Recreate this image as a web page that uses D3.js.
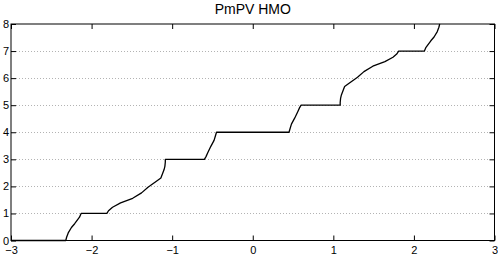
<!DOCTYPE html>
<html>
<head>
<meta charset="utf-8">
<script src="https://cdn.jsdelivr.net/npm/d3@7"></script>
<style>
  body { margin: 0; background: #fff; }
  svg text { font-family: 'Liberation Sans', Arial, sans-serif; fill: #000; }
</style>
</head>
<body>
<div id="chart"></div>
<script>
// curve samples
const xs = [-3, -2.32, -2.31, -2.29, -2.25, -2.21, -2.15, -2.13,
  -1.81, -1.79, -1.74, -1.64, -1.49, -1.38, -1.30, -1.27, -1.20, -1.14, -1.10, -1.09, -1.085, -1.085,
  -0.60, -0.58, -0.56, -0.52, -0.48, -0.46, -0.45,
  0.45, 0.46, 0.48, 0.52, 0.56, 0.58, 0.60,
  1.085, 1.085, 1.09, 1.10, 1.14, 1.20, 1.27, 1.30, 1.38, 1.49, 1.64, 1.74, 1.79, 1.81,
  2.13, 2.15, 2.21, 2.25, 2.29, 2.31, 2.32]
const ys = [0, 0, 0.12, 0.28, 0.48, 0.62, 0.86, 1,
  1, 1.1, 1.23, 1.39, 1.56, 1.76, 1.97, 2.03, 2.18, 2.31, 2.62, 2.75, 2.9, 3,
  3, 3.1, 3.23, 3.48, 3.7, 3.9, 4,
  4, 4.1, 4.3, 4.52, 4.77, 4.9, 5,
  5, 5.1, 5.25, 5.38, 5.69, 5.82, 5.97, 6.03, 6.24, 6.44, 6.61, 6.77, 6.9, 7,
  7, 7.14, 7.38, 7.52, 7.72, 7.88, 8]

const xTicks = [-3, -2, -1, 0, 1, 2, 3]
const yTicks = [0, 1, 2, 3, 4, 5, 6, 7, 8]
const title = 'PmPV HMO'

const outerWidth = 498
const outerHeight = 255
const margin = { top: 24, right: 3.5, bottom: 14.5, left: 11 }
const width = outerWidth - margin.left - margin.right
const height = outerHeight - margin.top - margin.bottom
const tickLen = 5

const svg = d3.select('#chart')
  .append('svg')
  .attr('width', outerWidth)
  .attr('height', outerHeight)

const g = svg.append('g')
  .attr('transform', `translate(${margin.left},${margin.top})`)

const x = d3.scaleLinear().domain([-3, 3]).range([0, width])
const y = d3.scaleLinear().domain([0, 8]).range([height, 0])
const fmt = (d) => d < 0 ? '\u2212' + Math.abs(d) : String(d)

// dotted grid
g.append('g')
  .selectAll('line')
  .data(yTicks.filter((d) => d > 0 && d < 8))
  .join('line')
  .attr('x1', tickLen)
  .attr('x2', width - tickLen)
  .attr('y1', (d) => Math.round(y(d)) + 0.5)
  .attr('y2', (d) => Math.round(y(d)) + 0.5)
  .attr('stroke', '#a0a0a0')
  .attr('stroke-width', 0.8)
  .attr('stroke-dasharray', '1,2')

// axes, ticks pointing inward on every side
const axisStyle = (sel) => {
  sel.select('.domain').remove()
  sel.selectAll('.tick line').attr('stroke', '#000')
  sel.selectAll('.tick text')
    .style('font-size', '11px')
    .style('font-family', "'Liberation Sans', Arial, sans-serif")
}

g.append('g')
  .attr('transform', `translate(0,${height})`)
  .call(d3.axisBottom(x).tickValues(xTicks).tickFormat(fmt).tickSizeInner(-tickLen).tickSizeOuter(0).tickPadding(6))
  .call(axisStyle)
g.append('g')
  .call(d3.axisTop(x).tickValues(xTicks).tickFormat('').tickSizeInner(-tickLen).tickSizeOuter(0))
  .call(axisStyle)
g.append('g')
  .call(d3.axisLeft(y).tickValues(yTicks).tickFormat(fmt).tickSizeInner(-tickLen).tickSizeOuter(0).tickPadding(2))
  .call(axisStyle)
g.append('g')
  .attr('transform', `translate(${width},0)`)
  .call(d3.axisRight(y).tickValues(yTicks).tickFormat('').tickSizeInner(-tickLen).tickSizeOuter(0))
  .call(axisStyle)

// box
g.append('rect')
  .attr('x', 0)
  .attr('y', 0)
  .attr('width', width)
  .attr('height', height)
  .attr('fill', 'none')
  .attr('stroke', '#000')
  .attr('stroke-width', 1)

// the curve
const pts = xs.map((d, i) => [d, ys[i]])
const line = d3.line()
  .x((d) => x(d[0]))
  .y((d) => y(d[1]))
g.append('path')
  .datum(pts)
  .attr('d', line)
  .attr('fill', 'none')
  .attr('stroke', '#000')
  .attr('stroke-width', 1.3)
  .attr('stroke-linejoin', 'round')

// title
svg.append('text')
  .attr('x', margin.left + width / 2)
  .attr('y', 14)
  .attr('text-anchor', 'middle')
  .style('font-size', '14px')
  .text(title)
</script>
</body>
</html>
